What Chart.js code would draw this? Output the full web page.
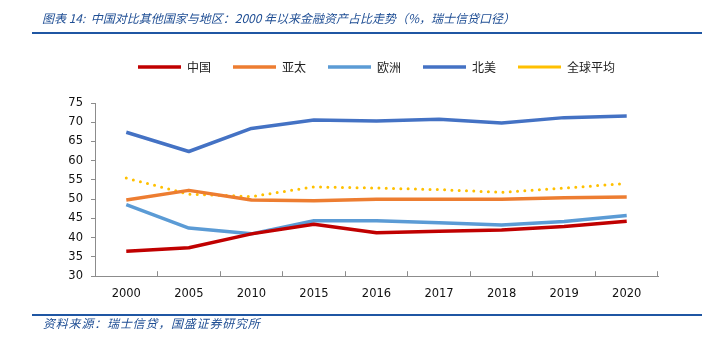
<!DOCTYPE html>
<html><head><meta charset="utf-8">
<script src="https://cdn.jsdelivr.net/npm/chart.js@4/dist/chart.umd.min.js"></script>
<style>
html,body{margin:0;padding:0;background:#fff;width:718px;height:357px;overflow:hidden;}
#wrap{position:absolute;left:0;top:0;width:718px;height:357px;}
#title{position:absolute;left:42px;top:9px;font:italic 12px "Noto Sans CJK SC","Liberation Sans",sans-serif;color:#1F4E94;white-space:nowrap;}
.rule{position:absolute;left:32px;width:670px;height:2px;background:#1F56A3;}
#src{position:absolute;left:43px;font:italic 12px "Noto Sans CJK SC",sans-serif;color:#1F4E94;white-space:nowrap;letter-spacing:0.8px;}
#cv{position:absolute;left:0;top:0;}
</style></head>
<body>
<div id="wrap">
<canvas id="cv" width="718" height="357"></canvas>
<div id="title">图表 14:&nbsp; 中国对比其他国家与地区：2000 年以来金融资产占比走势（%，瑞士信贷口径）</div>
<div class="rule" style="top:32px"></div>
<div class="rule" style="top:314px"></div>
<div id="src" style="top:314px">资料来源：瑞士信贷，国盛证券研究所</div>
</div>
<script>
const categories = ["2000","2005","2010","2015","2016","2017","2018","2019","2020"];
const china    = [36.5, 37.4, 41.0, 43.5, 41.3, 41.7, 42.0, 42.9, 44.3];
const asiaPac  = [49.8, 52.3, 49.8, 49.6, 50.0, 50.0, 50.0, 50.4, 50.6];
const europe   = [48.6, 42.5, 41.0, 44.4, 44.4, 43.9, 43.3, 44.2, 45.8];
const northAm  = [67.4, 62.4, 68.4, 70.6, 70.3, 70.8, 69.8, 71.2, 71.6];
const globalAvg= [55.5, 51.3, 50.7, 53.2, 52.9, 52.5, 51.8, 52.9, 54.1];
const seriesNames = ["中国","亚太","欧洲","北美","全球平均"];
const yTicks = [30,35,40,45,50,55,60,65,70,75];

const numFont = {family:"DejaVu Sans", size:11.5};
function ds(label, data, color, extra){
  return Object.assign({label, data, borderColor:color, backgroundColor:color, borderWidth:3.5,
    pointRadius:0, pointHoverRadius:0, tension:0, fill:false, borderCapStyle:'butt', borderJoinStyle:'round'}, extra||{});
}
const legendTweak = {
  id:'legendTweak',
  beforeInit(chart){
    const lg = chart.legend;
    const orig = lg.fit;
    lg.fit = function(){ orig.call(this); this.height += 20; };
  },
  afterLayout(chart){
    const lg = chart.legend, ca = chart.chartArea;
    const shift = (ca.left + ca.right)/2 - (lg.left + lg.right)/2;
    lg.left += shift; lg.right += shift;
  }
};
new Chart(document.getElementById('cv'), {
  type:'line',
  data:{
    labels:categories,
    datasets:[
      ds(seriesNames[0], china, '#C00000'),
      ds(seriesNames[1], asiaPac, '#ED7D31'),
      ds(seriesNames[2], europe, '#5B9BD5'),
      ds(seriesNames[3], northAm, '#4472C4'),
      ds(seriesNames[4], globalAvg, '#FFC000', {borderWidth:3, borderDash:[0,7.3], borderCapStyle:'round'})
    ]
  },
  plugins:[legendTweak],
  options:{
    responsive:false, animation:false,
    layout:{padding:{left:0,right:60,top:39,bottom:40}},
    plugins:{
      legend:{
        display:true, position:'top',
        labels:{usePointStyle:true, pointStyle:'line', pointStyleWidth:43, boxHeight:12,
          padding:22, color:'#222', font:{family:"Noto Sans CJK SC", size:12}}
      },
      tooltip:{enabled:false}
    },
    scales:{
      x:{
        offset:true,
        grid:{display:true, drawOnChartArea:false, offset:true, tickLength:-5, color:'#8c8c8c', tickColor:'#8c8c8c'},
        border:{display:true, color:'#8c8c8c', width:1},
        ticks:{color:'#111', font:numFont, padding:16, maxRotation:0}
      },
      y:{
        min:30, max:75,
        afterFit(scale){ scale.width = 95; },
        afterBuildTicks(scale){ scale.ticks = yTicks.map(v=>({value:v})); },
        grid:{display:true, drawOnChartArea:false, tickLength:4, color:'#8c8c8c'},
        border:{display:true, color:'#8c8c8c', width:1},
        ticks:{color:'#111', font:numFont, padding:8}
      }
    }
  }
});
</script>
</body></html>
